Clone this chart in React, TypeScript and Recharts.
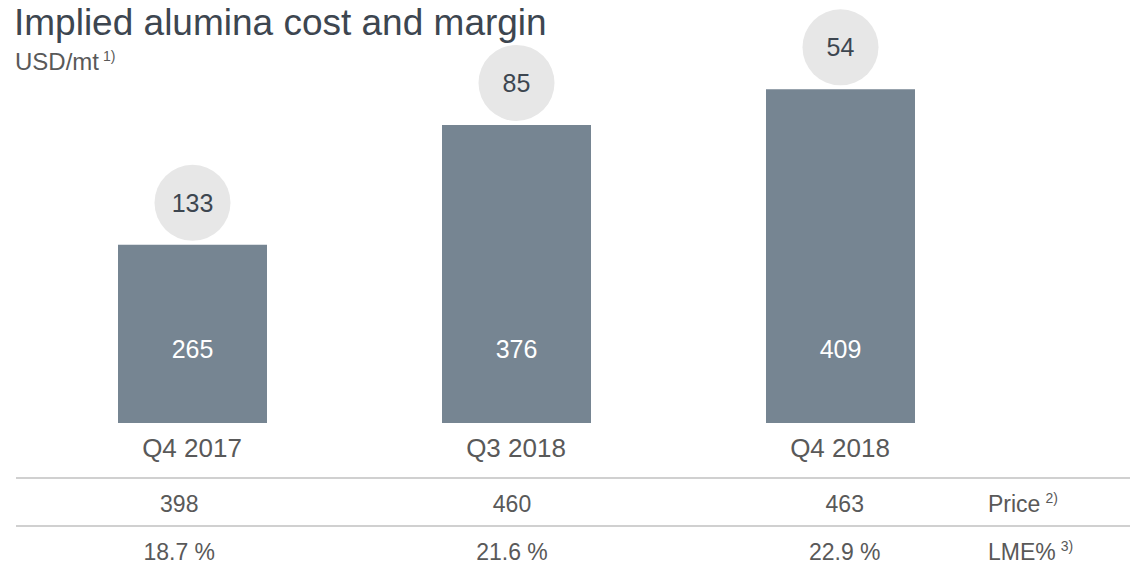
import React from 'react';
import { BarChart, Bar, XAxis, YAxis, LabelList } from 'recharts';

const categories = ['Q4 2017', 'Q3 2018', 'Q4 2018'];
const costs = [265, 376, 409];
const margins = [133, 85, 54];
const prices = [398, 460, 463];
const lmePct = [18.7, 21.6, 22.9];

const data = categories.map((name, i) => ({
  name,
  cost: costs[i],
  margin: margins[i],
  price: prices[i],
  lme: lmePct[i],
}));

const FONT = '"Liberation Sans", Arial, Helvetica, sans-serif';
const BAR_COLOR = '#768592';
const TEXT = '#595959';
const TITLE = '#3d4650';

// table columns are spaced a little wider than the bars
const tableX = (x: number) => 512 + (x - 516) * 1.027;

function CategoryTick(props: any) {
  const { x, y, payload, index } = props;
  const row = data[index] ?? data.find(d => d.name === payload.value);
  const tx = tableX(x);
  return (
    <g fontFamily={FONT}>
      <text x={x} y={y + 34} textAnchor="middle" fontSize={26} fill={TEXT}>
        {payload.value}
      </text>
      <text x={tx} y={y + 89} textAnchor="middle" fontSize={23} fill={TEXT}>
        {row ? row.price : ''}
      </text>
      <text x={tx} y={y + 137} textAnchor="middle" fontSize={23} fill={TEXT}>
        {row ? `${row.lme.toFixed(1)} %` : ''}
      </text>
    </g>
  );
}

function CostLabel(props: any) {
  const { x, y, width, height, value } = props;
  return (
    <text
      x={x + width / 2}
      y={y + height - 65}
      textAnchor="middle"
      fontSize={25}
      fontFamily={FONT}
      fill="#ffffff"
    >
      {value}
    </text>
  );
}

function MarginBubble(props: any) {
  const { x, y, width, value } = props;
  const cx = x + width / 2;
  const cy = y - 42;
  return (
    <g>
      <circle cx={cx} cy={cy} r={38} fill="#e7e7e7" />
      <text x={cx} y={cy + 9} textAnchor="middle" fontSize={25} fontFamily={FONT} fill={TITLE}>
        {value}
      </text>
    </g>
  );
}

export default function App() {
  return (
    <div style={{ position: 'absolute', left: 0, top: 0, width: 1130, height: 573, background: '#fff' }}>
      <BarChart
        width={1130}
        height={573}
        data={data}
        margin={{ top: 45, right: 128, bottom: 0, left: 30 }}
      >
        <XAxis
          dataKey="name"
          axisLine={false}
          tickLine={false}
          tickSize={0}
          tickMargin={0}
          height={150}
          interval={0}
          tick={<CategoryTick />}
        />
        <YAxis hide domain={[100, 450]} />
        <Bar dataKey="cost" fill={BAR_COLOR} barSize={149} isAnimationActive={false}>
          <LabelList dataKey="cost" content={<CostLabel />} />
          <LabelList dataKey="margin" content={<MarginBubble />} />
        </Bar>
      </BarChart>
      <svg
        width={1130}
        height={573}
        style={{ position: 'absolute', left: 0, top: 0, pointerEvents: 'none' }}
        fontFamily={FONT}
      >
        <text x={14} y={35} fontSize={37} fill={TITLE}>
          Implied alumina cost and margin
        </text>
        <text x={15} y={70} fontSize={24} fill={TEXT}>
          USD/mt
          <tspan fontSize={14} dx={4} dy={-9}>1)</tspan>
        </text>
        <line x1={16} x2={1130} y1={478} y2={478} stroke="#d0d0d0" strokeWidth={2} />
        <line x1={16} x2={1130} y1={526} y2={526} stroke="#d0d0d0" strokeWidth={2} />
        <text x={988} y={512} fontSize={23} fill={TEXT}>
          Price
          <tspan fontSize={14} dx={5} dy={-9}>2)</tspan>
        </text>
        <text x={988} y={560} fontSize={23} fill={TEXT}>
          LME%
          <tspan fontSize={14} dx={5} dy={-9}>3)</tspan>
        </text>
      </svg>
    </div>
  );
}
